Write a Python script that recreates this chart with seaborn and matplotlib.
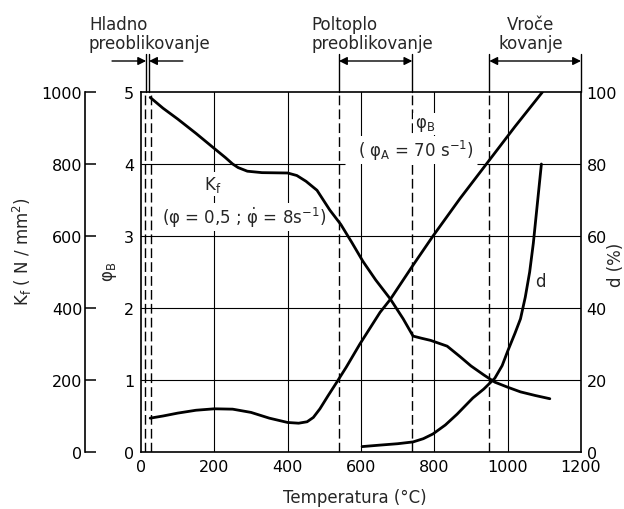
import matplotlib
matplotlib.use("Agg")
import matplotlib.pyplot as plt
import seaborn as sns

# ---- data ----
T_kf = [25, 60, 100, 150, 200, 230, 250, 265, 290, 330, 400, 425, 450, 480, 515, 545, 575, 605, 640, 680, 715, 742, 765, 790, 835, 870, 900, 935, 965, 1000, 1035, 1075, 1115]
Kf = [985, 955, 925, 885, 843, 818, 800, 790, 780, 776, 775, 768, 752, 727, 672, 632, 582, 530, 478, 425, 370, 322, 316, 310, 294, 265, 239, 214, 194, 180, 167, 157, 148]

T_phi = [25, 60, 100, 150, 200, 250, 300, 350, 400, 430, 453, 470, 488, 510, 534, 560, 597, 652, 680, 740, 795, 870, 945, 1020, 1095]
phiB = [0.47, 0.50, 0.54, 0.58, 0.60, 0.595, 0.55, 0.47, 0.41, 0.40, 0.42, 0.48, 0.60, 0.78, 0.97, 1.18, 1.50, 1.94, 2.12, 2.58, 2.99, 3.52, 4.02, 4.52, 5.00]

T_d = [603, 650, 700, 742, 770, 796, 830, 862, 905, 935, 965, 985, 1000, 1020, 1035, 1048, 1060, 1070, 1080, 1092]
d = [1.5, 1.9, 2.3, 2.8, 3.7, 5.0, 7.5, 10.5, 15.0, 17.5, 20.5, 24.0, 28.0, 33.0, 37.0, 43.0, 50.0, 58.0, 68.0, 80.0]

x_ticks = [0, 200, 400, 600, 800, 1000, 1200]
phi_ticks = [0, 1, 2, 3, 4, 5]
kf_ticks = [0, 200, 400, 600, 800, 1000]
d_ticks = [0, 20, 40, 60, 80, 100]

dashed_T = [12, 27, 540, 740, 950]

sns.set_theme(style="white")
plt.rcParams['font.family'] = ['DejaVu Sans']
plt.rcParams['mathtext.fontset'] = 'dejavusans'

fig = plt.figure(figsize=(6.24, 5.10), dpi=100)
W, H = 624, 510
L, R, B, T = 141, 581, 453, 93
ax = fig.add_axes([L / W, 1 - B / H, (R - L) / W, (B - T) / H])
ax.set_xlim(0, 1200)
ax.set_ylim(0, 5)
ax.set_facecolor('white')
for s in ax.spines.values():
    s.set_color('black')
    s.set_linewidth(1.2)

# grid
for yv in [1, 2, 3]:
    ax.axhline(yv, color='black', lw=0.8, zorder=1)
ax.hlines(4, 0, 555, color='black', lw=0.8, zorder=1)
ax.hlines(4, 917, 1200, color='black', lw=0.8, zorder=1)
for xv in [200, 400, 600, 800, 1000]:
    ax.axvline(xv, color='black', lw=0.8, zorder=1)
for xv in dashed_T:
    ax.axvline(xv, color='black', lw=1.0, ls=(0, (7, 3)), zorder=1)

ax.set_xticks(x_ticks)
ax.set_yticks(phi_ticks)
ax.tick_params(axis='both', length=0, labelsize=11.5, colors='black')
ax.tick_params(axis='x', pad=5)
ax.tick_params(axis='y', pad=5)

sns.lineplot(x=T_phi, y=phiB, ax=ax, color='black', lw=2.0, zorder=3)

# Kf axis (outer left)
ax_kf = ax.twinx()
ax_kf.set_ylim(0, 1000)
for k in ['right', 'top', 'bottom']:
    ax_kf.spines[k].set_visible(False)
ax_kf.spines['left'].set_visible(True)
ax_kf.spines['left'].set_position(('axes', (85 - L) / (R - L)))
ax_kf.spines['left'].set_linewidth(1.2)
ax_kf.spines['left'].set_color('black')
ax_kf.yaxis.set_ticks_position('left')
ax_kf.set_yticks(kf_ticks)
ax_kf.tick_params(axis='y', direction='in', length=8, width=1.1, pad=2, labelsize=11.5, colors='black')
sns.lineplot(x=T_kf, y=Kf, ax=ax_kf, color='black', lw=2.0)

# d axis (right)
ax_d = ax.twinx()
ax_d.set_ylim(0, 100)
for s in ax_d.spines.values():
    s.set_visible(False)
ax_d.set_yticks(d_ticks)
ax_d.tick_params(axis='y', length=0, pad=4, labelsize=11.5, colors='black')
sns.lineplot(x=T_d, y=d, ax=ax_d, color='black', lw=2.0)
ax.set_xlabel('')
ax.set_ylabel('')
ax_kf.set_ylabel('')
ax_d.set_ylabel('')

# axis labels
fs = 12
fig.text(22 / W, 1 - 252 / H, r"K$_\mathrm{f}$ ( N / mm$^2$)", rotation=90, ha='center', va='center', fontsize=fs)
fig.text(110 / W, 1 - 272 / H, r"φ$_\mathrm{B}$", rotation=90, ha='center', va='center', fontsize=fs)
fig.text(616 / W, 1 - 265 / H, "d (%)", rotation=90, ha='center', va='center', fontsize=fs)
fig.text(355 / W, 1 - 498 / H, "Temperatura (°C)", ha='center', va='center', fontsize=fs)

# annotations in plot
bb = dict(facecolor='white', edgecolor='none', pad=1.5)
ax.text(196, 3.72, r"K$_\mathrm{f}$", ha='center', va='center', fontsize=fs, bbox=bb, zorder=4)
ax.text(280, 3.26, r"(φ = 0,5 ; $\dot{\mathrm{φ}}$ = 8s$^{-1}$)", ha='center', va='center', fontsize=fs, bbox=bb, zorder=4)
ax.text(775, 4.55, r"φ$_\mathrm{B}$", ha='center', va='center', fontsize=fs, bbox=bb, zorder=4)
ax.text(750, 4.2, r"( φ$_\mathrm{A}$ = 70 s$^{-1}$)", ha='center', va='center', fontsize=fs, bbox=bb, zorder=4)
ax.text(1088, 2.37, "d", ha='center', va='center', fontsize=fs, zorder=4)

# regions above the chart
tr = ax.get_xaxis_transform()
top_y = (B - 55) / (B - T)
arr_y = (B - 62) / (B - T)
for xv in [14, 22, 540, 740, 950, 1200]:
    ax.plot([xv, xv], [1.0, top_y], color='black', lw=1.0, transform=tr, clip_on=False)
ap = dict(arrowstyle='-|>', color='black', lw=1.0, mutation_scale=12, shrinkA=0, shrinkB=0)
ax.annotate('', xy=(14, arr_y), xytext=(-79, arr_y), xycoords=tr, textcoords=tr, arrowprops=ap, annotation_clip=False)
ax.annotate('', xy=(22, arr_y), xytext=(114, arr_y), xycoords=tr, textcoords=tr, arrowprops=ap, annotation_clip=False)
ap2 = dict(arrowstyle='<|-|>', color='black', lw=1.0, mutation_scale=12, shrinkA=0, shrinkB=0)
ax.annotate('', xy=(540, arr_y), xytext=(740, arr_y), xycoords=tr, textcoords=tr, arrowprops=ap2, annotation_clip=False)
ax.annotate('', xy=(950, arr_y), xytext=(1200, arr_y), xycoords=tr, textcoords=tr, arrowprops=ap2, annotation_clip=False)

txt_y = (B - 16) / (B - T)
ax.text(-142, txt_y, "Hladno\npreoblikovanje", transform=tr, ha='left', va='top', fontsize=fs, linespacing=1.05)
ax.text(466, txt_y, "Poltoplo\npreoblikovanje", transform=tr, ha='left', va='top', fontsize=fs, linespacing=1.05)
ax.text(1062, txt_y, "Vroče\nkovanje", transform=tr, ha='center', va='top', fontsize=fs, linespacing=1.05, multialignment='center')

fig.savefig("out.png", dpi=100)
